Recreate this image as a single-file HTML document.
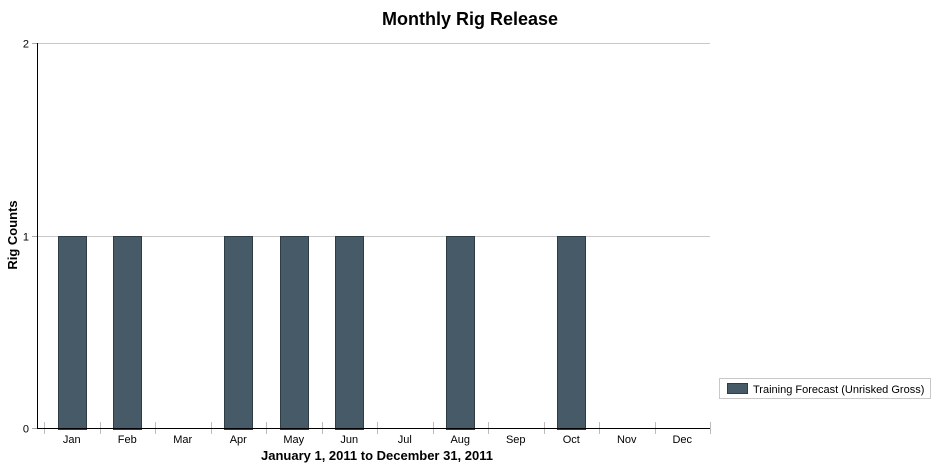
<!DOCTYPE html>
<html><head><meta charset="utf-8"><style>
body{margin:0;background:#fff;font-family:"Liberation Sans",Arial,sans-serif}
svg text{font-family:"Liberation Sans",Arial,sans-serif}
</style></head><body>
<svg id="chart" width="936" height="464">
<text x="470" y="25" text-anchor="middle" font-size="18" font-weight="bold">Monthly Rig Release</text>
<text transform="translate(17,235) rotate(-90)" text-anchor="middle" font-size="13" font-weight="bold">Rig Counts</text>
<text x="377" y="460" text-anchor="middle" font-size="13" font-weight="bold">January 1, 2011 to December 31, 2011</text>
<g id="grid"></g>
<g id="bars"></g>
<g id="axes"></g>
<g>
<rect x="719.5" y="378.5" width="211" height="20" fill="#fff" stroke="#c8c8c8"/>
<rect x="727.5" y="383.5" width="20" height="10" fill="#465a68" stroke="#2e3c46"/>
<text x="753" y="393" font-size="11">Training Forecast (Unrisked Gross)</text>
</g>
</svg>
<script>
const categories=["Jan","Feb","Mar","Apr","May","Jun","Jul","Aug","Sep","Oct","Nov","Dec"];
const values=[1,1,0,1,1,1,0,1,0,1,0,0];
const yTicks=[0,1,2];
const NS="http://www.w3.org/2000/svg";
const x0=44,x1=710,yTop=43,yBot=428,yMax=2;
const bw=(x1-x0)/categories.length;
const ys=v=>yBot-(v/yMax)*(yBot-yTop);
const xs=i=>x0+i*bw;
function mk(t,a,p){const e=document.createElementNS(NS,t);for(const k in a)e.setAttribute(k,a[k]);p.appendChild(e);return e;}
const grid=document.getElementById('grid'),bars=document.getElementById('bars'),axes=document.getElementById('axes');
yTicks.forEach(v=>{
  const y=Math.round(ys(v))+0.5;
  if(v>0){const l=mk('line',{x1:38,x2:x1,y1:y,y2:y,stroke:'#c8c8c8'},grid);
    
    }
  const tk=mk('line',{x1:32,x2:38,y1:y,y2:y,stroke:'#aaa'},axes);
  
  
  const t=mk('text',{x:29,y:y+4,'text-anchor':'end','font-size':11},axes);t.textContent=v;
  
  
});
categories.forEach((c,i)=>{
  const cx=xs(i)+bw/2;
  if(values[i]>0){
    const r=mk('rect',{x:Math.round(cx-14)+0.5,y:Math.round(ys(values[i]))+0.5,width:28,height:Math.round(yBot-ys(values[i])),fill:'#465a68',stroke:'#2e3c46'},bars);
    
    
  }
  const t=mk('text',{x:cx,y:443,'text-anchor':'middle','font-size':11},axes);t.textContent=c;
  
  
});
for(let i=0;i<=categories.length;i++){
  const x=Math.round(xs(i))+0.5;
  const tk=mk('line',{x1:x,x2:x,y1:422,y2:434,stroke:'#bbb'},axes);
  
  
}
const xa=mk('line',{x1:38,x2:x1,y1:428.5,y2:428.5,stroke:'#000'},axes);


const ya=mk('line',{x1:37.5,x2:37.5,y1:yTop,y2:429,stroke:'#000'},axes);


</script>
</body></html>
